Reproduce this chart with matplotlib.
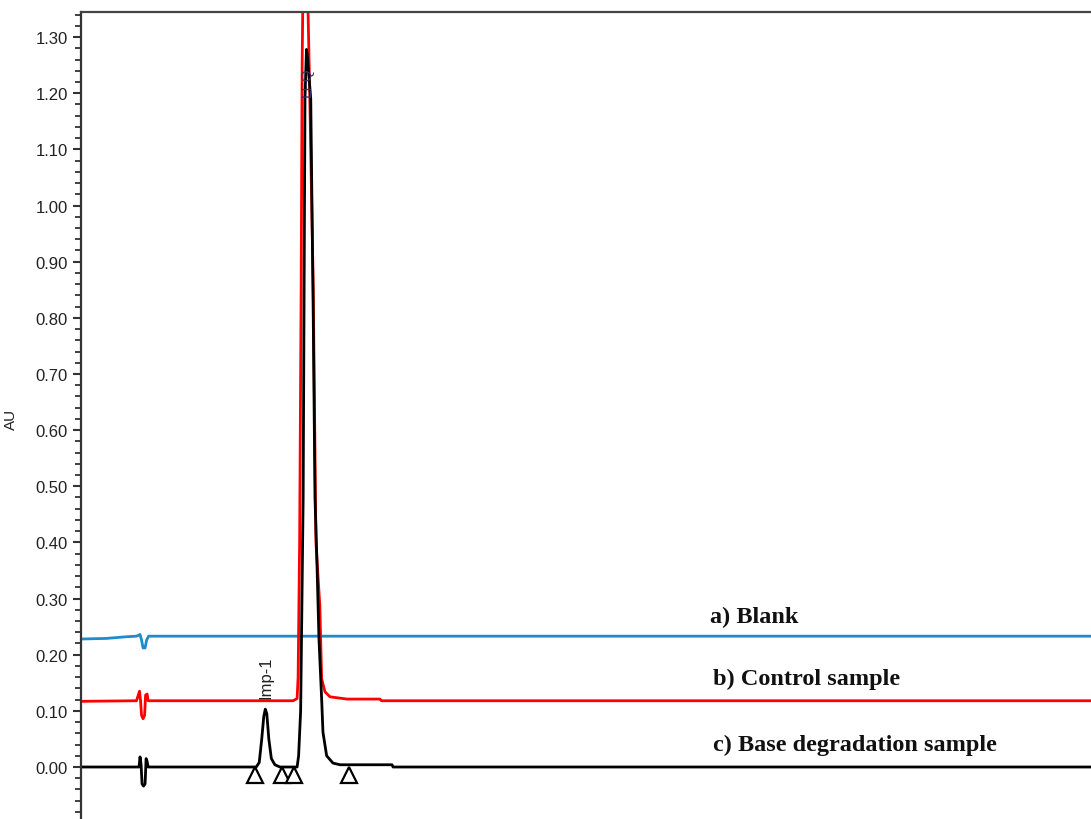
import matplotlib
matplotlib.use("Agg")
import matplotlib.pyplot as plt
from matplotlib.ticker import MultipleLocator, FormatStrFormatter

# retention time (min) and absorbance (AU)
blank_t = [0.02, 0.5, 0.9, 1.10, 1.17, 1.20, 1.23, 1.27, 1.30, 1.34, 20.0]
blank_au = [0.228, 0.229, 0.232, 0.233, 0.236, 0.226, 0.212, 0.212, 0.226, 0.233, 0.233]

control_t = [0.02, 1.10, 1.16, 1.18, 1.20, 1.23, 1.26, 1.28, 1.31, 1.33,
             4.20, 4.28, 4.30, 4.33, 4.36, 4.38, 4.40, 4.44, 4.48, 4.53,
             4.60, 4.653, 4.73, 4.766, 4.832, 4.931, 5.267, 5.92, 5.95, 20.0]
control_au = [0.117, 0.118, 0.135, 0.118, 0.092, 0.086, 0.092, 0.128, 0.130, 0.118,
              0.118, 0.122, 0.16, 0.40, 0.85, 1.25, 1.42, 1.50, 1.42, 1.20,
              0.85, 0.40, 0.287, 0.157, 0.134, 0.125, 0.121, 0.121, 0.118, 0.118]

base_t = [0.02, 1.15, 1.17, 1.19, 1.21, 1.24, 1.27, 1.29, 1.31, 1.33,
          3.47, 3.53, 3.58, 3.62, 3.65, 3.68, 3.72, 3.77, 3.84, 3.94,
          4.28, 4.31, 4.35, 4.40, 4.436, 4.465, 4.48, 4.55, 4.60, 4.634,
          4.667, 4.713, 4.766, 4.792, 4.865, 4.99, 5.13, 6.16, 6.18, 20.0]
base_au = [0.0, 0.0, 0.018, 0.005, -0.030, -0.034, -0.030, 0.015, 0.010, 0.0,
           0.0, 0.008, 0.05, 0.09, 0.103, 0.095, 0.05, 0.015, 0.004, 0.0,
           0.0, 0.02, 0.10, 0.48, 1.19, 1.278, 1.27, 1.19, 0.80, 0.48,
           0.383, 0.228, 0.121, 0.062, 0.02, 0.007, 0.004, 0.004, 0.0, 0.0]

# integration start/end markers
marker_t = [3.446, 3.980, 4.218, 5.307]
marker_au = [-0.014, -0.014, -0.014, -0.014]

trace_labels = ["a) Blank", "b) Control sample", "c) Base degradation sample"]
label_t = [12.46, 12.51, 12.51]
label_au = [0.269, 0.158, 0.041]

fig = plt.figure(figsize=(10.91, 8.20), dpi=100)
ax = fig.add_axes([0.0742, 0.0, 0.9258, 0.9841])

ax.plot(blank_t, blank_au, color="#1e8bcd", lw=2)
ax.plot(control_t, control_au, color="#ff0000", lw=2)
ax.plot(base_t, base_au, color="black", lw=2)
ax.plot(marker_t, marker_au, ls="none", marker="^", ms=11,
        mfc="white", mec="black", mew=1.6)

for txt, tx, ty in zip(trace_labels, label_t, label_au):
    ax.text(tx, ty, txt, family="Liberation Serif", fontweight="bold",
            fontsize=17.5, va="center", ha="left", color="#111111")

# peak names
ax.text(3.66, 0.123, "Imp-1", rotation=90, ha="center", va="bottom",
        family="Liberation Sans", fontsize=12, color="#222222", zorder=5)
ax.text(4.47, 1.195, "LFQ", rotation=90, ha="center", va="bottom",
        family="Liberation Sans", fontsize=11, color="#333366", zorder=5)

ax.set_xlim(0, 20)
ax.set_ylim(-0.0926, 1.3446)
ax.yaxis.set_major_locator(MultipleLocator(0.10))
ax.yaxis.set_minor_locator(MultipleLocator(0.02))
ax.yaxis.set_major_formatter(FormatStrFormatter("%.2f"))
ax.tick_params(axis="y", which="major", direction="out", length=6, width=1.5,
               labelsize=12, colors="#333333", labelcolor="#222222")
ax.tick_params(axis="y", which="minor", direction="out", length=4, width=1.3,
               colors="#333333")
for lab in ax.get_yticklabels():
    lab.set_family("Liberation Sans")
ax.set_xticks([])

ax.spines["right"].set_visible(False)
ax.spines["bottom"].set_visible(False)
ax.spines["left"].set_color("#333333")
ax.spines["top"].set_color("#444444")
ax.spines["left"].set_linewidth(1.6)
ax.spines["top"].set_linewidth(1.6)

ax.set_ylabel("AU", family="Liberation Sans", fontsize=11, color="#222222")
ax.yaxis.set_label_coords(-0.062, 0.496)

fig.savefig("out.png", dpi=100)
